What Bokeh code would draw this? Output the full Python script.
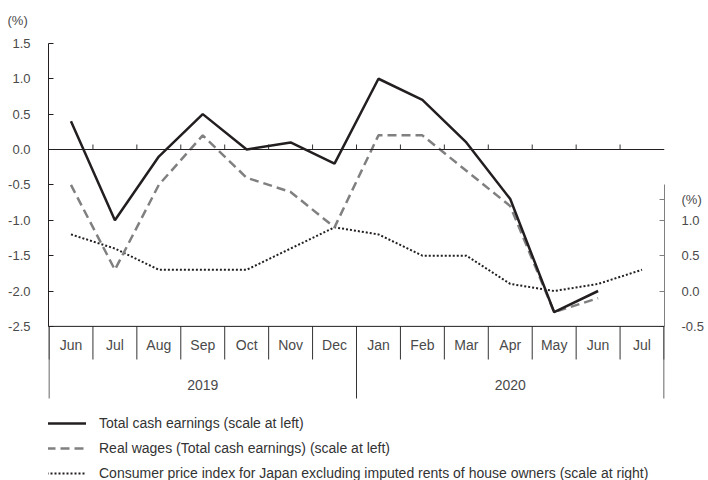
from bokeh.plotting import figure
from bokeh.models import (Range1d, LinearAxis, FixedTicker, NumeralTickFormatter,
                          Legend, LegendItem, Span, Title)
from bokeh.embed import file_html
from bokeh.resources import INLINE
from bokeh.core.properties import value

# ---------------- data ----------------
months = ["Jun", "Jul", "Aug", "Sep", "Oct", "Nov", "Dec",
          "Jan", "Feb", "Mar", "Apr", "May", "Jun", "Jul"]
years = ["2019", "2020"]
months_per_year = [7, 7]

total_cash = [0.4, -1.0, -0.1, 0.5, 0.0, 0.1, -0.2, 1.0, 0.7, 0.1, -0.7, -2.3, -2.0]
real_wages = [-0.5, -1.7, -0.5, 0.2, -0.4, -0.6, -1.1, 0.2, 0.2, -0.3, -0.8, -2.3, -2.1]
cpi = [0.8, 0.6, 0.3, 0.3, 0.3, 0.6, 0.9, 0.8, 0.5, 0.5, 0.1, 0.0, 0.1, 0.3]

left_ticks = [-2.5, -2.0, -1.5, -1.0, -0.5, 0.0, 0.5, 1.0, 1.5]
right_ticks = [-0.5, 0.0, 0.5, 1.0]
unit_label = "(%)"
right_unit_pos = 1.3

labels = ["Total cash earnings (scale at left)",
          "Real wages (Total cash earnings) (scale at left)",
          "Consumer price index for Japan excluding imputed rents of house owners (scale at right)"]

# ---------------- layout helpers ----------------
FONT = "Liberation Sans"
TXT = "#4a4a4a"
W, H = 708, 480
TOP = 30                          # frame top (title border)
ZERO = 149                        # pixel row of left value 0
PX = 70.75                        # pixels per left-axis unit
RIGHT_OFFSET = 2.0                # right value = left value + 2
n = len(months)
pad = 0.5 / 44

def py(pix):                      # canvas pixel row -> left-axis value
    return (ZERO - pix) / PX

x_centers = [i + 0.5 for i in range(n)]
bounds = list(range(n + 1))
year_bounds = [0]
for m in months_per_year:
    year_bounds.append(year_bounds[-1] + m)
year_centers = [(a + b) / 2 for a, b in zip(year_bounds[:-1], year_bounds[1:])]

p = figure(width=W, height=H, output_backend="svg", toolbar_location=None,
           x_range=Range1d(-pad, n + pad), y_range=Range1d(py(H), py(TOP)),
           x_axis_type=None, y_axis_location="left",
           min_border_left=48, min_border_right=44, min_border_top=TOP, min_border_bottom=0)
p.grid.visible = False
p.outline_line_color = None
p.background_fill_color = "white"
p.border_fill_color = "white"

# "(%)" above the left axis
p.add_layout(Title(text=unit_label, align="left", offset=-41, standoff=6,
                   text_font=FONT, text_font_size="13px", text_font_style="normal",
                   text_color=TXT), "above")

# left axis
ya = p.yaxis[0]
ya.ticker = FixedTicker(ticks=left_ticks)
ya.formatter = NumeralTickFormatter(format="0.0")
ya.bounds = (left_ticks[0], left_ticks[-1])
ya.major_tick_in = 5
ya.major_tick_out = 0
ya.minor_tick_line_color = None
ya.axis_line_color = "#231f20"
ya.major_tick_line_color = "#231f20"
ya.major_label_standoff = 18
ya.major_label_text_font = FONT
ya.major_label_text_font_size = "13px"
ya.major_label_text_color = TXT

# right axis
p.extra_y_ranges = {"right": Range1d(py(H) + RIGHT_OFFSET, py(TOP) + RIGHT_OFFSET)}
ra = LinearAxis(y_range_name="right", ticker=FixedTicker(ticks=right_ticks + [right_unit_pos]),
                formatter=NumeralTickFormatter(format="0.0"),
                major_label_overrides={right_unit_pos: unit_label},
                bounds=(right_ticks[0], 1.5))
ra.major_tick_in = 5
ra.major_tick_out = 0
ra.minor_tick_line_color = None
ra.axis_line_color = "#808080"
ra.major_tick_line_color = "#808080"
ra.major_label_standoff = 17
ra.major_label_text_font = FONT
ra.major_label_text_font_size = "13px"
ra.major_label_text_color = TXT
p.add_layout(ra, "right")

# zero line & bottom line
p.add_layout(Span(location=0, dimension="width", line_color="#231f20", line_width=1))
p.add_layout(Span(location=left_ticks[0], dimension="width", line_color="#231f20", line_width=1))
inner = bounds[1:-1]
p.segment(x0=inner, y0=0, x1=inner, y1=5 / PX, line_color="#333333", line_width=1)

# category separators
p.segment(x0=bounds, y0=left_ticks[0], x1=bounds, y1=py(359), line_color="#333333", line_width=1)
p.segment(x0=year_bounds, y0=left_ticks[0], x1=year_bounds, y1=py(398), line_color="#333333", line_width=1)

# category labels
p.text(x=x_centers, y=py(344), text=months, text_align="center", text_baseline="middle",
       text_font=value(FONT), text_font_size="14px", text_color=TXT)
p.text(x=year_centers, y=py(384), text=years, text_align="center", text_baseline="middle",
       text_font=value(FONT), text_font_size="14px", text_color=TXT)

# series
r_cpi = p.line(x_centers[:len(cpi)], [v - RIGHT_OFFSET for v in cpi],
               line_color="#231f20", line_width=2, line_dash="2 2")
r_real = p.line(x_centers[:len(real_wages)], real_wages,
                line_color="#808080", line_width=2.5, line_dash="9 5")
r_total = p.line(x_centers[:len(total_cash)], total_cash,
                 line_color="#231f20", line_width=2.5)

# legend
legend = Legend(items=[LegendItem(label=labels[0], renderers=[r_total]),
                       LegendItem(label=labels[1], renderers=[r_real]),
                       LegendItem(label=labels[2], renderers=[r_cpi])],
                location=(-2, -3), orientation="vertical",
                glyph_width=40, glyph_height=20, label_height=20, spacing=5,
                padding=0, margin=0, label_standoff=13,
                border_line_color=None, background_fill_alpha=0,
                label_text_font=FONT, label_text_font_size="14px", label_text_color="#333333")
p.add_layout(legend)

open("out.html", "w").write(file_html(p, INLINE))
